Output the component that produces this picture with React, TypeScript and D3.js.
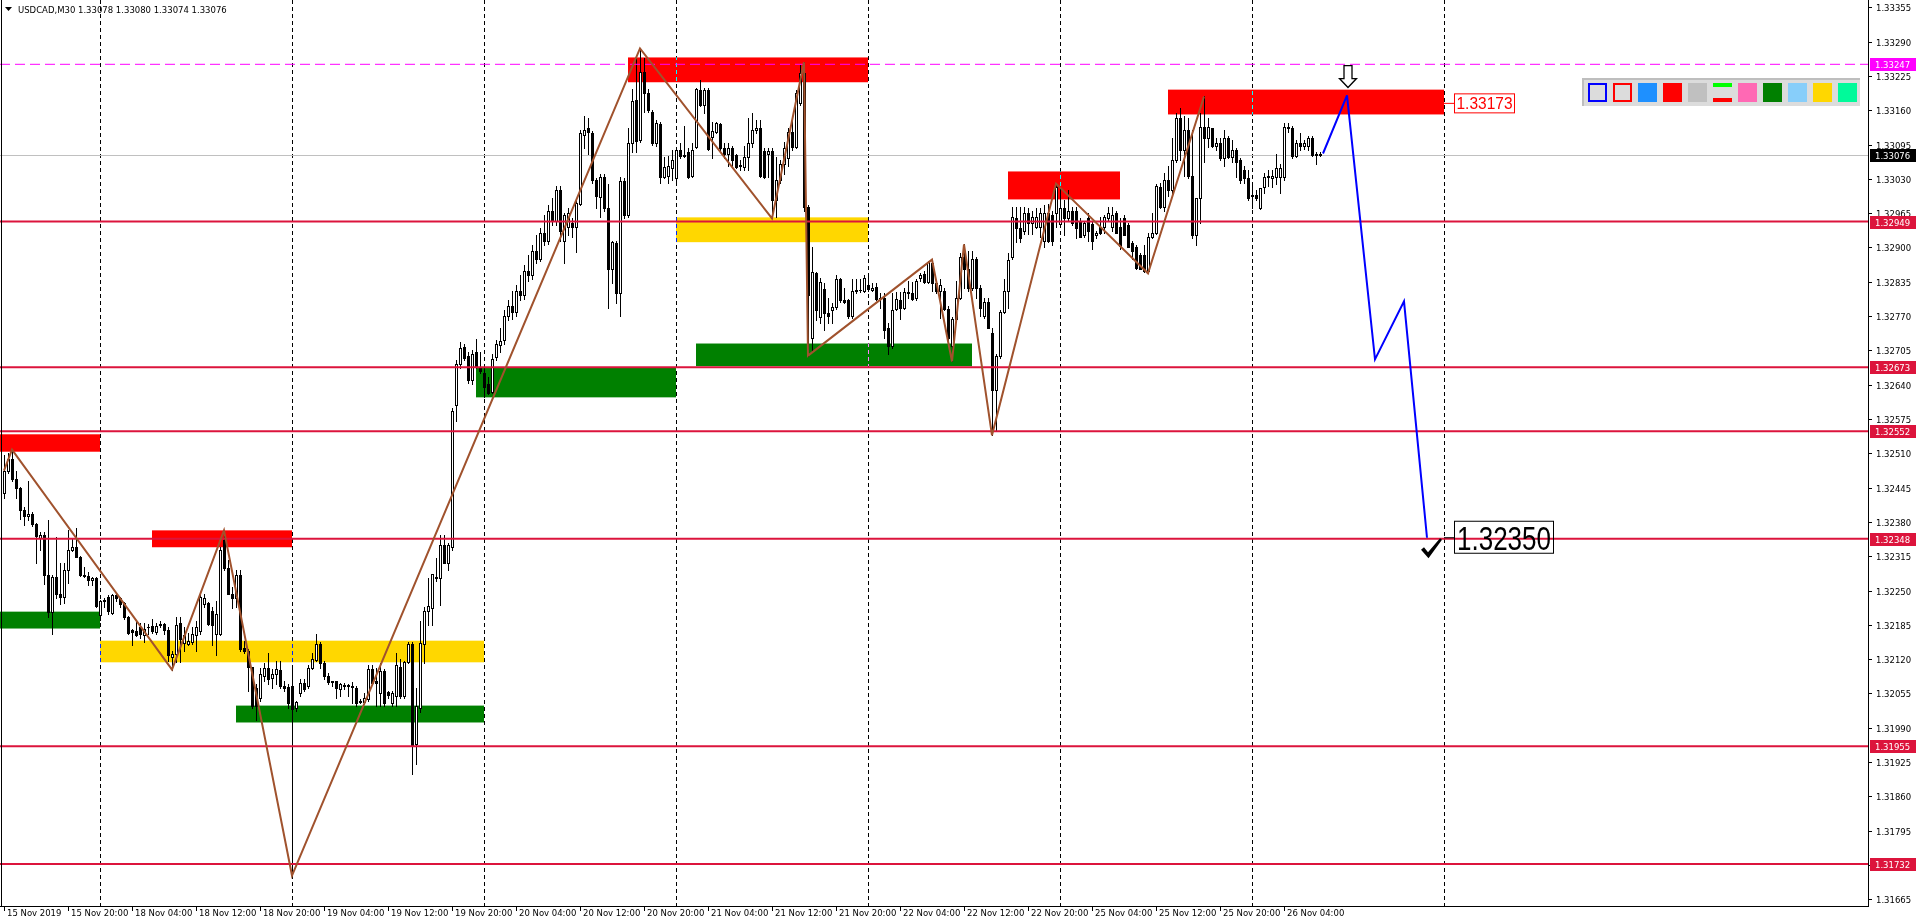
import * as d3 from "d3"
import React from "react"

// quotes in points above 1.30000 : [open, high, low, close], one M30 bar each
const fri15 = [
  [2434,2506,2426,2477],[2477,2510,2473,2500],[2500,2517,2458,2462],[2462,2477,2426,2445],[2445,2447,2385,2402],[2402,2408,2374,2391],
  [2391,2458,2383,2395],[2395,2398,2372,2376],[2376,2378,2302,2353],[2350,2360,2326,2356],[2355,2360,2262,2279],[2279,2383,2199,2210],
  [2210,2279,2168,2275],[2275,2351,2235,2244],[2244,2302,2225,2238],[2238,2302,2227,2288],[2288,2364,2264,2326],[2326,2347,2324,2332],
  [2332,2368,2313,2313],[2313,2315,2277,2279],[2279,2294,2275,2277],[2277,2285,2260,2270],[2270,2275,2260,2273],[2273,2275,2218,2220],
]
const mon18 = [
  [2203,2233,2195,2231],[2231,2235,2218,2233],[2238,2242,2206,2212],[2208,2244,2206,2242],[2242,2244,2231,2236],[2236,2238,2218,2225],
  [2227,2229,2197,2199],[2199,2201,2168,2170],[2176,2178,2147,2172],[2174,2195,2163,2165],[2180,2189,2161,2168],[2165,2189,2153,2178],
  [2180,2187,2168,2181],[2182,2197,2170,2174],[2172,2189,2168,2182],[2185,2193,2180,2186],[2186,2189,2168,2176],[2176,2180,2117,2127],
  [2125,2136,2100,2129],[2129,2199,2114,2184],[2189,2199,2114,2159],[2151,2180,2136,2165],[2149,2170,2147,2155],[2153,2180,2149,2167],
  [2165,2193,2136,2180],[2174,2244,2168,2237],[2225,2244,2218,2235],[2227,2229,2184,2187],[2212,2218,2147,2184],[2168,2231,2127,2206],
  [2168,2332,2165,2326],[2345,2364,2288,2292],[2292,2307,2244,2244],[2244,2256,2216,2235],[2235,2288,2218,2279],[2279,2288,2136,2140],
  [2142,2155,2132,2136],[2136,2140,2060,2106],[2106,2106,2028,2031],[2066,2073,2004,2031],[2047,2104,2041,2091],[2089,2112,2079,2104],
  [2104,2132,2073,2083],[2085,2102,2066,2091],[2091,2117,2073,2102],[2100,2117,2066,2070],[2070,2079,2060,2066],[2068,2073,2028,2036],
]
const tue19 = [
  [2070,2102,1710,2026],[2028,2041,2022,2039],[2055,2083,2051,2074],[2074,2083,2060,2064],[2070,2108,2066,2104],[2104,2132,2102,2121],
  [2119,2168,2117,2149],[2149,2153,2104,2112],[2112,2117,2083,2089],[2089,2093,2072,2076],[2076,2079,2070,2078],[2078,2079,2047,2066],
  [2064,2074,2051,2072],[2070,2074,2064,2071],[2071,2072,2051,2070],[2070,2076,2036,2068],[2066,2070,2032,2036],[2041,2045,2036,2039],
  [2039,2055,2036,2047],[2045,2108,2041,2102],[2102,2108,2072,2074],[2079,2104,2032,2074],[2055,2112,2032,2098],[2098,2102,2032,2036],
  [2057,2060,2047,2053],[2036,2060,2032,2055],[2051,2131,2032,2108],[2106,2121,2047,2051],[2051,2117,2047,2114],[2114,2153,2112,2149],
  [2149,2153,1903,1956],[1960,2066,1922,2032],[2028,2193,2019,2151],[2149,2218,2112,2212],[2212,2273,2184,2220],[2216,2282,2184,2281],
  [2275,2311,2269,2273],[2273,2355,2222,2336],[2336,2355,2302,2303],[2303,2341,2288,2336],[2332,2595,2326,2591],[2601,2686,2572,2680],
  [2680,2720,2671,2709],[2711,2718,2686,2690],[2694,2701,2644,2648],[2648,2705,2642,2699],[2701,2726,2671,2673],[2671,2701,2663,2665],
]
const wed20 = [
  [2663,2671,2616,2635],[2642,2654,2623,2625],[2627,2699,2625,2688],[2692,2724,2686,2718],[2716,2747,2701,2722],[2724,2781,2718,2771],
  [2771,2800,2762,2790],[2790,2818,2765,2777],[2777,2828,2771,2818],[2818,2847,2800,2809],[2809,2866,2803,2856],[2856,2885,2837,2847],
  [2847,2904,2841,2894],[2894,2923,2871,2879],[2879,2936,2875,2928],[2928,2961,2904,2913],[2913,2980,2907,2970],[2970,2993,2942,2951],
  [2951,3017,2942,3008],[3008,3017,2913,2932],[2913,2965,2870,2961],[2938,2974,2923,2965],[2947,2955,2919,2938],[2938,2993,2891,2985],
  [2983,3122,2980,3116],[3114,3150,3088,3122],[3126,3146,3078,3118],[3116,3120,3023,3027],[3027,3031,2974,2998],[2995,3040,2957,3034],
  [3034,3040,2970,2974],[2974,3021,2786,2860],[2860,2913,2832,2911],[2909,2913,2794,2813],[2813,3033,2771,3025],[3025,3031,2955,2961],
  [2961,3127,2957,3097],[3097,3201,3080,3177],[3179,3260,3080,3101],[3103,3277,3099,3232],[3232,3258,3156,3192],[3192,3201,3156,3160],
  [3156,3160,3095,3097],[3097,3141,3093,3135],[3133,3137,3023,3033],[3033,3071,3031,3052],[3035,3074,3023,3054],[3050,3084,3027,3065],
]
const thu21 = [
  [3031,3088,3021,3084],[3084,3097,3069,3074],[3074,3131,3071,3075],[3080,3088,3031,3033],[3036,3097,3033,3084],[3090,3203,3088,3200],
  [3198,3218,3168,3170],[3170,3203,3155,3198],[3198,3203,3084,3086],[3110,3137,3069,3120],[3118,3137,3116,3135],[3133,3135,3084,3088],
  [3088,3097,3069,3078],[3078,3097,3055,3088],[3088,3092,3052,3065],[3076,3078,3050,3052],[3057,3065,3046,3055],[3053,3093,3046,3072],
  [3072,3146,3046,3097],[3097,3154,3090,3122],[3122,3141,3116,3126],[3126,3141,3033,3036],[3082,3088,3031,3033],[3078,3088,3033,3082],
  [3082,3088,2955,2989],[2989,3071,2957,3027],[3027,3065,3023,3059],[3059,3099,3040,3088],[3069,3127,3055,3118],[3118,3150,3084,3090],
  [3090,3198,3088,3192],[3173,3245,3169,3230],[3230,3251,2970,2976],[2976,2980,2695,2809],[2728,2900,2701,2854],[2851,2854,2762,2781],
  [2768,2843,2756,2834],[2822,2832,2743,2775],[2775,2805,2756,2771],[2781,2794,2756,2788],[2788,2847,2784,2841],[2841,2843,2796,2800],
  [2800,2824,2794,2796],[2800,2803,2767,2771],[2771,2841,2767,2818],[2818,2841,2813,2820],[2820,2841,2815,2819],[2818,2847,2815,2843],
]
const fri22 = [
  [2828,2847,2818,2822],[2820,2832,2818,2824],[2826,2832,2800,2803],[2805,2813,2786,2804],[2805,2813,2728,2743],[2748,2756,2699,2714],
  [2714,2813,2709,2781],[2783,2815,2781,2803],[2800,2815,2765,2786],[2786,2824,2784,2815],[2813,2837,2805,2815],[2813,2834,2800,2803],
  [2805,2841,2800,2837],[2843,2851,2837,2847],[2849,2856,2832,2834],[2834,2875,2832,2872],[2870,2877,2818,2832],[2832,2837,2813,2818],
  [2818,2841,2767,2828],[2818,2824,2781,2784],[2784,2790,2724,2729],[2714,2769,2684,2765],[2765,2837,2762,2805],[2805,2889,2803,2881],
  [2881,2906,2824,2860],[2860,2894,2818,2824],[2824,2894,2820,2879],[2879,2881,2805,2824],[2824,2828,2771,2786],[2771,2805,2767,2796],
  [2796,2805,2747,2747],[2737,2747,2544,2629],[2629,2699,2553,2695],[2695,2781,2691,2777],[2777,2841,2775,2818],[2818,2889,2786,2877],
  [2881,2976,2879,2957],[2955,2976,2910,2936],[2936,2976,2910,2917],[2932,2976,2926,2965],[2966,2974,2926,2947],[2947,2970,2926,2957],
  [2938,2974,2936,2957],[2938,2974,2919,2966],[2913,2980,2900,2966],[2966,2983,2910,2913],[2961,2970,2904,2913],[2965,3021,2938,3014],
]
const mon25 = [
  [2945,3012,2938,2974],[2974,2989,2923,2955],[2955,3008,2951,2970],[2970,2976,2942,2947],[2970,2976,2917,2936],[2951,2955,2919,2919],
  [2923,2951,2919,2947],[2955,2965,2913,2932],[2945,2951,2898,2913],[2923,2932,2917,2927],[2938,2957,2926,2928],[2938,2961,2928,2957],
  [2955,2976,2951,2965],[2938,2976,2932,2961],[2965,2970,2928,2928],[2938,2955,2898,2902],[2955,2961,2923,2923],[2942,2947,2900,2900],
  [2908,2913,2879,2894],[2900,2904,2860,2862],[2885,2889,2860,2860],[2885,2904,2853,2856],[2856,2928,2851,2919],[2919,2966,2917,2928],
  [2928,3021,2926,3017],[3014,3023,2974,2976],[2976,3042,2970,3027],[3027,3055,2998,3008],[3008,3107,3002,3065],[3065,3154,3061,3146],
  [3146,3164,3065,3084],[3084,3150,3036,3122],[3122,3145,3031,3036],[3036,3122,2917,2923],[2923,2993,2904,2993],[2993,3154,2947,3128],
  [3128,3186,3061,3108],[3108,3146,3090,3128],[3126,3126,3090,3092],[3092,3108,3084,3097],[3097,3108,3065,3069],[3069,3122,3055,3108],
  [3108,3112,3069,3071],[3071,3103,3061,3084],[3084,3088,3033,3061],[3065,3069,3023,3027],[3046,3055,3023,3031],[3031,3046,2989,2993],
]
const tue26 = [
  [2998,3021,2974,3000],[3000,3008,2989,2993],[2974,3012,2972,3012],[3014,3042,3004,3033],[3035,3046,3017,3033],[3031,3046,3014,3035],
  [3033,3078,3021,3050],[3033,3059,3004,3050],[3033,3135,3027,3129],[3129,3135,3118,3126],[3126,3131,3069,3074],[3074,3103,3071,3097],
  [3097,3116,3084,3092],[3092,3103,3086,3097],[3093,3112,3084,3107],[3107,3112,3074,3076],[3076,3080,3059,3078],[3078,3080,3074,3076],
]

// zigzag pivots [bar, points], projected path [bar, points]
const zigzag = [[0,2477],[2,2517],[42,2100],[55,2364],[72,1710],[159,3277],[192,2955],[200,3251],[201,2695],[232,2877],[237,2684],[240,2906],[247,2544],[263,3021],[286,2851],[300,3186]]
const projection = [[329.75,3078],[335.75,3188],[342.75,2688],[350,2798],[355.75,2350]]

// zones [fromBar, toBar, top, bottom, colour]
const zones: [number, number, number, number, string][] = [
  [-1, 24, 2546, 2513, "#FF0000"],
  [-1, 24, 2210, 2178, "#008000"],
  [37, 72, 2364, 2332, "#FF0000"],
  [24, 120, 2155, 2114, "#FFD700"],
  [58, 120, 2032, 2000, "#008000"],
  [118, 168, 2673, 2616, "#008000"],
  [156, 216, 3260, 3213, "#FF0000"],
  [168, 216, 2957, 2910, "#FFD700"],
  [173, 242, 2718, 2675, "#008000"],
  [251, 279, 3044, 2991, "#FF0000"],
  [291, 360, 3199, 3152, "#FF0000"],
]

const levels = [1.32949, 1.32673, 1.32552, 1.32348, 1.31955, 1.31732]
const dashedLevel = 1.33247
const bidPrice = 1.33076
const targetLevel = 1.32350
const zoneLevel = 1.33173

const dayStarts = [24, 72, 120, 168, 216, 264, 312, 360]
const priceTicks = [1.33355, 1.33290, 1.33225, 1.33160, 1.33095, 1.33030, 1.32965, 1.32900, 1.32835, 1.32770, 1.32705, 1.32640, 1.32575, 1.32510,
  1.32445, 1.32380, 1.32315, 1.32250, 1.32185, 1.32120, 1.32055, 1.31990, 1.31925, 1.31860, 1.31795, 1.31730, 1.31665]
const timeLabels: [number, string][] = [
  [0, "15 Nov 2019"], [16, "15 Nov 20:00"], [32, "18 Nov 04:00"], [48, "18 Nov 12:00"], [64, "18 Nov 20:00"], [80, "19 Nov 04:00"],
  [96, "19 Nov 12:00"], [112, "19 Nov 20:00"], [128, "20 Nov 04:00"], [144, "20 Nov 12:00"], [160, "20 Nov 20:00"], [176, "21 Nov 04:00"],
  [192, "21 Nov 12:00"], [208, "21 Nov 20:00"], [224, "22 Nov 04:00"], [240, "22 Nov 12:00"], [256, "22 Nov 20:00"], [272, "25 Nov 04:00"],
  [288, "25 Nov 12:00"], [304, "25 Nov 20:00"], [320, "26 Nov 04:00"],
]
const paletteColors = ["outline:#0000FF", "outline:#FF0000", "#1E90FF", "#FF0000", "#C0C0C0", "bars", "#FF69B4", "#008000", "#87CEFA", "#FFD700", "#00FA9A"]

const toPrice = (p: number) => 1.3 + p / 100000
const FONT = "DejaVu Sans"

export default function App() {
  const width = 1916
  const height = 923
  const plotRight = 1868
  const plotBottom = 906

  const bars = [...fri15, ...mon18, ...tue19, ...wed20, ...thu21, ...fri22, ...mon25, ...tue26]
    .map(([o, h, l, c]) => ({ o: toPrice(o), h: toPrice(h), l: toPrice(l), c: toPrice(c) }))

  const x = d3.scaleLinear().domain([0, 466]).range([4, 1868])
  const y = d3.scaleLinear().domain([1.31665, 1.33355]).range([899.3, 7.3])

  const line = d3.line<number[]>().x(d => x(d[0])).y(d => y(toPrice(d[1])))

  const fmt = (v: number) => v.toFixed(5)

  const labelBox = (price: number, bg: string, key: string) => {
    const yy = Math.round(y(price))
    return <g key={key}>
      <rect x={1870} y={yy - 6} width={46} height={13} fill={bg} />
      <text x={1875} y={yy + 3.5} fontSize={8.5} fontFamily={FONT} fill="white">{fmt(price)}</text>
    </g>
  }

  const arrowX = x(336)
  const arrowTip = y(toPrice(3203))
  const checkX = x(354.25)
  const checkY = y(targetLevel)

  return <svg width={width} height={height} style={{ position: "fixed", left: 0, top: 0, background: "white" }}>
    <rect x={0} y={0} width={width} height={height} fill="white" />

    {zones.map(([a, b, top, bottom, col], i) =>
      <rect key={"z" + i} x={x(a)} y={y(toPrice(top))} width={x(b) - x(a)} height={y(toPrice(bottom)) - y(toPrice(top))} fill={col} />)}

    <g style={{ mixBlendMode: "difference" }}>
      {dayStarts.map(d => <line key={"g" + d} x1={x(d) + 0.5} x2={x(d) + 0.5} y1={0} y2={plotBottom} stroke="white" strokeDasharray="4,3" shapeRendering="crispEdges" />)}
    </g>

    <line x1={0} x2={plotRight} y1={Math.round(y(bidPrice)) + 0.5} y2={Math.round(y(bidPrice)) + 0.5} stroke="#C0C0C0" shapeRendering="crispEdges" />

    <g shapeRendering="crispEdges">
      {bars.map((b, i) => {
        const cx = Math.round(x(i))
        const top = Math.round(y(Math.max(b.o, b.c)))
        const bot = Math.round(y(Math.min(b.o, b.c)))
        const bull = b.c >= b.o
        return <g key={"c" + i}>
          <line x1={cx + 0.5} x2={cx + 0.5} y1={Math.round(y(b.h))} y2={Math.round(y(b.l)) + 1} stroke="black" />
          {bot - top >= 1
            ? <rect x={cx - 0.5} y={top + 0.5} width={2} height={bot - top} fill={bull ? "white" : "black"} stroke="black" />
            : <line x1={cx - 1} x2={cx + 2} y1={top + 0.5} y2={top + 0.5} stroke="black" />}
        </g>
      })}
    </g>

    <line x1={0} x2={plotRight} y1={y(dashedLevel)} y2={y(dashedLevel)} stroke="#FF00FF" strokeDasharray="10,5" />
    {levels.map(l => <line key={"l" + l} x1={0} x2={plotRight} y1={y(l)} y2={y(l)} stroke="#DC143C" strokeWidth={2} />)}

    <path d={line(zigzag) || ""} fill="none" stroke="#A0522D" strokeWidth={2} />
    <path d={line(projection) || ""} fill="none" stroke="#0000FF" strokeWidth={2} />

    {/* hollow down arrow */}
    <path d={`M${arrowX - 4},${arrowTip - 22} h8 v13 h4.5 l-8.5,9 l-8.5,-9 h4.5 z`} fill="white" stroke="black" strokeWidth={1.3} />

    {/* check mark */}
    <path d={`M${checkX},${checkY + 12} l3,-2.5 l4,5 l12,-14 l2,1.5 l-13.5,18.5 z`} fill="black" />

    {/* target label */}
    <line x1={x(360)} x2={x(362.5)} y1={y(targetLevel)} y2={y(targetLevel)} stroke="black" />
    <rect x={x(362.5) + 0.5} y={y(targetLevel) - 16.5} width={99} height={32} fill="none" stroke="black" />
    <text x={x(362.5) + 3} y={y(targetLevel) + 12} fontSize={33} fontFamily="Liberation Sans" textLength={94} lengthAdjust="spacingAndGlyphs" fill="black">{fmt(targetLevel)}</text>

    {/* zone label */}
    <line x1={x(360)} x2={x(362.5)} y1={y(zoneLevel)} y2={y(zoneLevel)} stroke="#FF0000" />
    <rect x={x(362.5) + 0.5} y={y(zoneLevel) - 9.5} width={60} height={19} fill="white" stroke="#FF0000" />
    <text x={x(362.5) + 2.5} y={y(zoneLevel) + 6} fontSize={17} fontFamily="Liberation Sans" textLength={56} lengthAdjust="spacingAndGlyphs" fill="#FF0000">{fmt(zoneLevel)}</text>

    {/* colour palette */}
    <g shapeRendering="crispEdges">
      <rect x={1582} y={78} width={278} height={28} fill="#DCDCDC" />
      <rect x={1582} y={78} width={278} height={2} fill="#BEBEBE" />
      <rect x={1582} y={78} width={2} height={28} fill="#BEBEBE" />
      {paletteColors.map((c, i) => {
        const px = 1588 + i * 25
        if (c.startsWith("outline:")) return <rect key={"p" + i} x={px + 1} y={84} width={17} height={17} fill="#DCDCDC" stroke={c.slice(8)} strokeWidth={2} />
        if (c === "bars") return <g key={"p" + i}>
          <rect x={px} y={83} width={19} height={4} fill="#00FF00" />
          <rect x={px} y={98} width={19} height={4} fill="#FF0000" />
        </g>
        return <rect key={"p" + i} x={px} y={83} width={19} height={19} fill={c} />
      })}
    </g>

    {/* header */}
    <path d="M5,7 L12,7 L8.5,11 Z" fill="black" />
    <text x={18} y={13} fontSize={8.5} fontFamily={FONT} fill="black">USDCAD,M30  1.33078 1.33080 1.33074 1.33076</text>

    {/* frame and axes */}
    <g shapeRendering="crispEdges">
      <line x1={1.5} x2={1.5} y1={0} y2={plotBottom} stroke="black" />
      <line x1={plotRight + 0.5} x2={plotRight + 0.5} y1={0} y2={plotBottom + 1} stroke="black" />
      <line x1={0} x2={plotRight + 1} y1={plotBottom + 0.5} y2={plotBottom + 0.5} stroke="black" />
      {priceTicks.map(t => <line key={"pt" + t} x1={plotRight} x2={plotRight + 4} y1={Math.round(y(t)) + 0.5} y2={Math.round(y(t)) + 0.5} stroke="black" />)}
      {timeLabels.map(([i]) => <line key={"tt" + i} x1={x(i) + 0.5} x2={x(i) + 0.5} y1={plotBottom} y2={plotBottom + 5} stroke="black" />)}
    </g>
    {priceTicks.map(t => <text key={"ptl" + t} x={1876} y={Math.round(y(t)) + 3.5} fontSize={8.5} fontFamily={FONT} fill="black">{fmt(t)}</text>)}
    {timeLabels.map(([i, s]) => <text key={"ttl" + i} x={x(i) + 3} y={915.5} fontSize={8.5} fontFamily={FONT} fill="black">{s}</text>)}

    {labelBox(dashedLevel, "#FF00FF", "bd")}
    {labelBox(bidPrice, "black", "bb")}
    {levels.map(l => labelBox(l, "#DC143C", "bl" + l))}
  </svg>
}
